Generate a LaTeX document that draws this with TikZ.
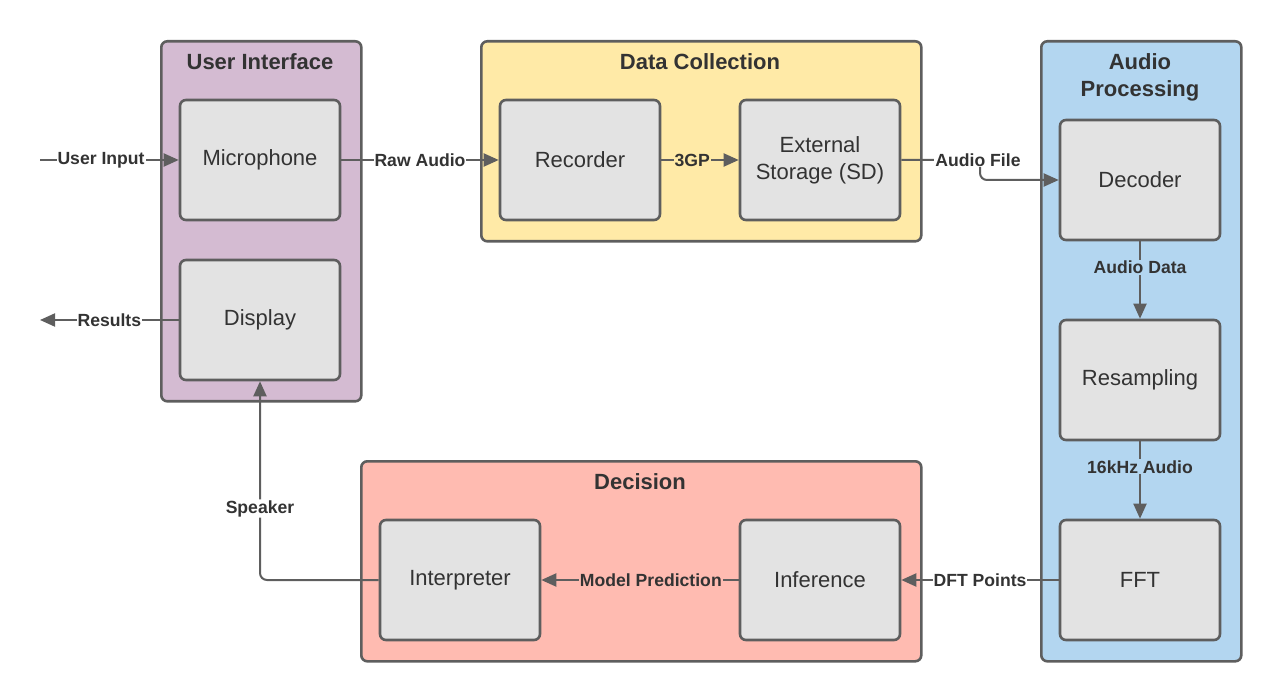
\documentclass[tikz,border=0pt]{standalone}
\usepackage{fontspec}
\setmainfont{Liberation Sans}
\usetikzlibrary{arrows.meta}
\definecolor{edgec}{HTML}{5E5E5E}
\definecolor{txt}{HTML}{333333}
\definecolor{uiF}{HTML}{D4BBD2}
\definecolor{dcF}{HTML}{FFEAA7}
\definecolor{apF}{HTML}{B3D6F0}
\definecolor{deF}{HTML}{FFBBB1}
\definecolor{boxF}{HTML}{E3E3E3}
\tikzset{
  group/.style={draw=edgec, line width=2.6pt, rounded corners=6pt, inner sep=0pt, anchor=north west},
  gtitle/.style={font=\bfseries\fontsize{22}{27}\selectfont, text=txt, align=center, inner sep=0pt},
  blk/.style={draw=edgec, fill=boxF, line width=2.6pt, rounded corners=6pt, minimum width=160pt, minimum height=120pt, inner sep=0pt, align=center, text=txt, font=\fontsize{22}{27}\selectfont},
  lab/.style={font=\bfseries\fontsize{17.6}{20}\selectfont, text=txt, inner sep=1pt},
  conn/.style={draw=edgec, line width=2pt, -{Triangle[length=15pt,width=13pt]}},
  plain/.style={draw=edgec, line width=2pt}
}
\begin{document}
\begin{tikzpicture}[x=1pt,y=-1pt]
\useasboundingbox (0,0) rectangle (1280,700);
% groups
\node[group, fill=uiF, minimum width=200pt, minimum height=360pt] (ui) at (160,40) {};
\node[group, fill=dcF, minimum width=440pt, minimum height=200pt] (dc) at (480,40) {};
\node[group, fill=apF, minimum width=200pt, minimum height=620pt] (ap) at (1040,40) {};
\node[group, fill=deF, minimum width=560pt, minimum height=200pt] (de) at (360,460) {};
% titles
\node[gtitle] (uiT) at (260,62) {User Interface};
\node[gtitle] (dcT) at (700,62) {Data Collection};
\node[gtitle] (apT) at (1140,77) {Audio\\Processing};
\node[gtitle] (deT) at (640,482) {Decision};
% blocks
\node[blk] (mic) at (260,160) {Microphone};
\node[blk] (dis) at (260,320) {Display};
\node[blk] (rec) at (580,160) {Recorder};
\node[blk] (ext) at (820,160) {External\\Storage (SD)};
\node[blk] (dec) at (1140,180) {Decoder};
\node[blk] (res) at (1140,380) {Resampling};
\node[blk] (fft) at (1140,580) {FFT};
\node[blk] (int) at (460,580) {Interpreter};
\node[blk] (inf) at (820,580) {Inference};
% free ends
\coordinate (uin) at (40,160);
\coordinate (uout) at (40,320);
\coordinate (afc) at (980,160);
% connectors
\draw[conn] (uin) -- node[lab, fill=white, pos=0.44] {User Input} (mic.west);
\draw[conn] (dis.west) -- node[lab, fill=white, pos=0.5] {Results} (uout);
\draw[conn] (mic.east) -- node[lab, fill=white, pos=0.5] {Raw Audio} (rec.west);
\draw[conn] (rec.east) -- node[lab, fill=dcF, pos=0.4] {3GP} (ext.west);
\draw[conn, rounded corners=7pt] (ext.east) -- (afc) |- (dec.west);
\node[lab, fill=white] (afl) at (978,160) {Audio File};
\draw[conn] (dec.south) -- node[lab, fill=apF, pos=0.34] {Audio Data} (res.north);
\draw[conn] (res.south) -- node[lab, fill=apF, pos=0.33] {16kHz Audio} (fft.north);
\draw[conn] (fft.west) -- node[lab, fill=white, pos=0.5] {DFT Points} (inf.east);
\draw[conn] (inf.west) -- node[lab, fill=deF, pos=0.445] {Model Prediction} (int.east);
\draw[conn, rounded corners=7pt] (int.west) -| node[lab, fill=white, pos=0.68] {Speaker} (dis.south);
\end{tikzpicture}
\end{document}
